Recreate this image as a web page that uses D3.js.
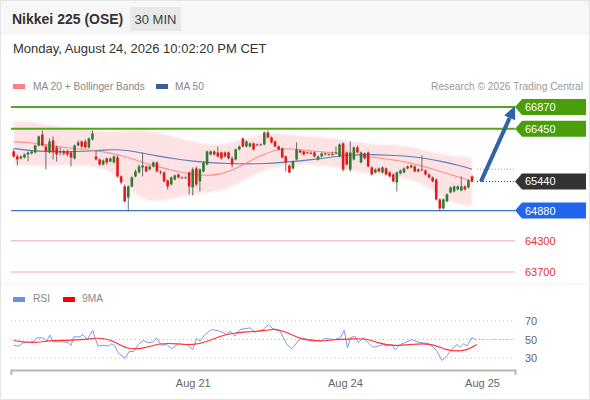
<!DOCTYPE html>
<html>
<head>
<meta charset="utf-8">
<script src="https://cdn.jsdelivr.net/npm/d3@7"></script>
<style>
  body { margin: 0; background: #fff; font-family: "Liberation Sans", Arial, sans-serif; }
</style>
</head>
<body>
<svg id="chart" width="590" height="400"></svg>
<script>
// 30 min candles
const open = [66016,65920,65882,65901,65958,65978,65997,66131,66342,66112,
  65997,66227,66093,66016,66016,66016,65997,65882,66131,66208,
  66208,66093,66246,65920,65862,65766,65882,65824,65805,65901,
  65536,65344,65133,65344,65536,65613,65709,65728,65670,65728,
  65805,65632,65613,65459,65382,65478,65574,65517,65510,65613,
  65325,65690,65440,65632,65766,65958,66016,65997,65997,65997,
  65997,65882,65862,66054,66266,66112,66112,66170,66150,66145,
  66150,66381,66285,66208,66112,66074,65920,65747,65690,65862,
  66035,66016,65997,65990,65997,65862,65920,65958,65958,65965,
  65978,65920,66170,65997,65670,65862,66093,65805,65978,65997,
  65709,65613,65690,65613,65690,65613,65574,65421,65594,65613,
  65728,65709,65728,65670,65670,65651,65574,65517,65478,65094,
  64922,65056,65229,65248,65286,65267,65344,65325,65536];
const close = [65920,65862,65920,65958,65997,66016,66131,66304,66131,66016,
  66208,65997,65958,66010,65978,65958,65901,66131,66189,66112,
  66093,66266,66362,65862,65766,65843,65805,65882,65920,65536,
  65421,65056,65344,65517,65632,65728,65747,65632,65728,65805,
  65632,65613,65440,65344,65517,65555,65517,65510,65517,65344,
  65670,65382,65670,65805,66016,66016,65958,65920,65882,65920,
  65882,65766,66054,66112,66112,66208,66170,66054,66145,66150,
  66381,66285,66189,66112,66054,65901,65805,65613,65824,66054,
  65997,65958,65990,65978,65920,65920,65978,65978,65965,65958,
  65997,66150,65670,65766,65997,66093,65997,65997,65882,65728,
  65574,65670,65632,65709,65574,65536,65440,65613,65651,65690,
  65690,65747,65632,65632,65665,65574,65517,65440,65094,64922,
  65094,65190,65325,65344,65344,65344,65286,65459,65440];
const high = [66054,65958,65939,65978,66016,66035,66150,66323,66419,66150,
  66266,66304,66131,66093,66054,66054,66016,66150,66227,66227,
  66246,66285,66419,66035,65882,65862,65901,65901,65939,65939,
  65555,65382,65363,65536,65670,65766,65997,65747,65747,65824,
  65824,65651,65632,65478,65536,65574,65594,65536,65536,65632,
  65709,65728,65690,65824,66035,66035,66035,66112,66016,66016,
  66016,65920,66074,66131,66285,66227,66189,66189,66170,66170,
  66400,66419,66304,66227,66131,66093,65939,65766,65843,66189,
  66054,66035,66016,66016,66016,65939,65997,65997,65978,66016,
  66112,66170,66189,66016,66208,66112,66131,66016,65997,66016,
  65728,65690,65709,65728,65709,65632,65594,65632,65670,65709,
  65747,65766,65747,65690,65939,65670,65594,65536,65498,65114,
  65114,65210,65344,65363,65363,65536,65363,65478,65555];
const low = [65901,65747,65862,65882,65824,65958,65978,66112,66112,65670,
  65978,65862,65824,65939,65939,65920,65728,65862,66112,66074,
  66074,66074,66227,65843,65747,65747,65766,65805,65786,65517,
  65382,65037,64864,65325,65517,65594,65536,65613,65651,65709,
  65613,65574,65421,65286,65363,65459,65498,65498,65498,65190,
  65171,65344,65248,65613,65747,65939,65939,65901,65862,65901,
  65862,65709,65843,66035,66093,66093,66093,66035,66131,66131,
  66131,66266,66170,66093,66035,65882,65632,65594,65670,65843,
  65978,65939,65978,65958,65901,65843,65901,65939,65939,65939,
  65958,65901,65632,65747,65632,65843,65978,65786,65862,65709,
  65555,65594,65613,65594,65555,65517,65421,65248,65574,65594,
  65670,65690,65613,65613,65651,65555,65498,65421,65075,64864,
  64902,65037,65210,65229,65267,65248,65267,65306,65421];

// indicator samples (bar index -> value)
const maIdx = [0,5,10,15,20,25,30,35,40,45,50,55,60,65,70,75,80,85,90,95,100,105,110,115,120,125,128];
const ma20 = [66202,66185,66131,66087,66049,66012,65949,65824,65728,65642,65569,65546,65613,65795,
  65968,66093,66045,66016,65987,65949,65910,65862,65809,65718,65613,65507,65446];
const ma50 = [66074,66026,66016,66010,66016,66045,66054,65997,65930,65872,65828,65799,65782,65776,
  65782,65805,65834,65872,65920,65953,65958,65945,65926,65885,65818,65738,65674];
const bbUpper = [66598,66598,66515,66477,66467,66381,66410,66429,66400,66294,66208,66122,66179,66266,
  66362,66362,66323,66294,66266,66198,66150,66150,66118,66035,65953,65920,65872];
const bbLower = [65766,65738,65734,65757,65747,65709,65478,65094,65046,65123,65190,65229,65286,65498,
  65651,65751,65766,65757,65709,65632,65584,65546,65498,65382,65085,64989,64966];

// key levels
const resistances = [66870, 66450];
const lastPrice = 65440;
const supports = [64880];
const lowerSupports = [64300, 63700];
const target = 66870;

// RSI pane
const rsiIdx = [0,1.3,2.7,5.5,6.4,8.3,9.2,10.1,11.1,13.9,15.3,16,16.8,18.5,19.3,20.6,22.1,22.7,23.6,25.2,
  26.4,27.4,28.3,29.2,31.1,32.3,33.4,34.8,36.2,37.6,39,39.9,41.3,42.7,44.1,46,48.3,50,51.1,52,
  53.4,55.3,57.6,59.5,60.4,61.8,63.2,66,67.4,69.7,71.1,72.3,74.4,76.3,77.7,80,82.8,85.6,87,89.7,
  91.2,92.3,93.2,94.1,95.3,96.3,97.5,98.6,100.3,101.8,103.1,104.2,105.6,106.5,108,109.8,111.2,112.6,
  114.2,115.8,117.2,118.2,119.6,120.9,122.3,123.8,124.7,125.7,126.6,127.9,129];
const rsi = [43.8,42.8,46.4,47.5,51.8,51.8,48.2,54.6,47.5,47.5,46.4,43.5,52.9,52.9,55.4,50,60.1,51.8,42.8,43.8,
  42.8,45.4,42.8,35.6,29.5,37.4,36.7,44.6,48.9,46.4,47.5,51.8,43.8,44.6,39.9,45.4,44.6,39.2,51.1,48.2,
  55.4,60.8,59,55.4,59,53.6,60.8,62.6,57.9,60.8,66.2,61.9,59,44.6,40,51,50,48.2,51.1,50,
  51.8,60.1,41,51.8,53.6,46.4,51.8,48.2,41.7,42.8,44.6,42.8,44.6,39.2,44.6,47.5,50,47.5,
  46.4,45.4,41.7,37.4,27.3,31.9,39.2,44.6,41.7,45.4,42.8,51.8,50];
const rsiMaIdx = [0,5.5,10.1,14.8,20.4,22.7,26,28.8,32,36.2,40.9,45.5,50.2,53.9,57.6,61.3,66,70.7,72.5,75.3,
  77.2,80,85.6,89.3,94.9,98.6,101.4,106,110.8,116.4,120.9,124.7,126.5,129.3];
const rsiMa = [48.9,45.7,49.2,48.9,50,51.8,50.8,46.4,39.2,39.9,46.4,45.4,43.8,47.5,53.6,57.2,58.3,59.7,61.6,59,
  56.2,50.5,47.5,50,50.8,51.1,46.4,42.8,44.6,46.4,38.1,37.4,38.4,44.6];
const rsiLevels = [70, 50, 30];

const dayIdx = [50, 92.5, 130.8];
const dayLabels = ["Aug 21", "Aug 24", "Aug 25"];

const svg = d3.select("#chart");
const font = '"Liberation Sans", Arial, sans-serif';
svg.style("font-family", font);

// frame + header
svg.append("rect").attr("x", 0.5).attr("y", 0.5).attr("width", 589).attr("height", 399)
  .attr("fill", "#fff").attr("stroke", "#e4e4e4");
svg.append("rect").attr("x", 1).attr("y", 1).attr("width", 588).attr("height", 34).attr("fill", "#f7f7f7");

svg.append("text").attr("x", 12).attr("y", 24).text("Nikkei 225 (OSE)")
  .attr("font-size", 14).attr("font-weight", "bold").attr("fill", "#333");
svg.append("rect").attr("x", 130).attr("y", 7).attr("width", 51).attr("height", 24)
  .attr("fill", "#e8e8e8");
svg.append("text").attr("x", 155.5).attr("y", 24).attr("text-anchor", "middle").text("30 MIN")
  .attr("font-size", 13).attr("fill", "#444");
svg.append("text").attr("x", 13).attr("y", 53).text("Monday, August 24, 2026 10:02:20 PM CET")
  .attr("font-size", 13).attr("fill", "#333");

// legend
svg.append("rect").attr("x", 13).attr("y", 84).attr("width", 12).attr("height", 5).attr("fill", "#ff8080");
svg.append("text").attr("x", 33).attr("y", 90).text("MA 20 + Bollinger Bands").attr("font-size", 10.2).attr("fill", "#888");
svg.append("rect").attr("x", 156).attr("y", 84).attr("width", 12).attr("height", 5).attr("fill", "#3b5e9c");
svg.append("text").attr("x", 175).attr("y", 90).text("MA 50").attr("font-size", 10.2).attr("fill", "#888");
svg.append("text").attr("x", 583).attr("y", 90).attr("text-anchor", "end")
  .text("Research \u00a9 2026 Trading Central").attr("font-size", 10.2).attr("fill", "#999");

// scales
const x = d3.scaleLinear().domain([-0.75, 140]).range([11, 515]);
const y = d3.scaleLinear().domain([63700, 66870]).range([272, 107]);
const ry = d3.scaleLinear().domain([30, 70]).range([358, 321]);
const xEnd = x.range()[1];

// bollinger band
const defs = svg.append("defs");
defs.append("filter").attr("id", "soft").append("feGaussianBlur").attr("stdDeviation", 1.2);
const bandArea = d3.area().curve(d3.curveBasis)
  .x((d, i) => x(maIdx[i])).y0((d, i) => y(bbLower[i])).y1(d => y(d));
svg.append("path").datum(bbUpper).attr("d", bandArea).attr("fill", "#fde3e3").attr("filter", "url(#soft)");

// level lines
resistances.forEach(v => {
  svg.append("line").attr("x1", 11).attr("x2", xEnd).attr("y1", y(v)).attr("y2", y(v))
    .attr("stroke", "#55a51c").attr("stroke-width", 2);
});
supports.forEach(v => {
  svg.append("line").attr("x1", 11).attr("x2", xEnd).attr("y1", y(v)).attr("y2", y(v))
    .attr("stroke", "#3b6fd0").attr("stroke-width", 1.3);
});
lowerSupports.forEach(v => {
  svg.append("line").attr("x1", 11).attr("x2", xEnd).attr("y1", y(v)).attr("y2", y(v))
    .attr("stroke", "#f5a8a8").attr("stroke-width", 1);
});

// moving averages
const maLine = d3.line().curve(d3.curveBasis).x((d, i) => x(maIdx[i])).y(d => y(d));
svg.append("path").datum(ma50).attr("d", maLine).attr("fill", "none").attr("stroke", "#5b7ec0").attr("stroke-width", 1.1);
svg.append("path").datum(ma20).attr("d", maLine).attr("fill", "none").attr("stroke", "#ff8c8c").attr("stroke-width", 1.1);

// candles
const bars = d3.range(close.length);
const bw = 2.6;
const g = svg.append("g");
g.selectAll("line.wick").data(bars).join("line").attr("class", "wick")
  .attr("x1", i => x(i)).attr("x2", i => x(i))
  .attr("y1", i => y(high[i])).attr("y2", i => y(low[i]))
  .attr("stroke", "#6b6b6b").attr("stroke-width", 1);
g.selectAll("rect.body").data(bars).join("rect").attr("class", "body")
  .attr("x", i => x(i) - bw / 2).attr("width", bw)
  .attr("y", i => y(Math.max(open[i], close[i])))
  .attr("height", i => Math.max(1, Math.abs(y(open[i]) - y(close[i]))))
  .attr("fill", i => close[i] >= open[i] ? "#2e7d2e" : "#e01b1b");

// projections from last bar
const last = close.length - 1;
svg.append("line").attr("x1", x(last) + 5).attr("x2", xEnd).attr("y1", y(lastPrice)).attr("y2", y(lastPrice))
  .attr("stroke", "#333").attr("stroke-dasharray", "1,2");
svg.append("line").attr("x1", x(last) + 5).attr("x2", xEnd)
  .attr("y1", y(ma50[ma50.length - 1])).attr("y2", y(ma50[ma50.length - 1]))
  .attr("stroke", "#8aa6d8").attr("stroke-dasharray", "1,2");

// arrow to target
const ax0 = x(last) + 9, ay0 = y(lastPrice);
const ax1 = xEnd, ay1 = y(target) - 1;
const ang = Math.atan2(ay1 - ay0, ax1 - ax0);
const headL = 13, headW = 6;
const bx = ax1 - headL * Math.cos(ang), by = ay1 - headL * Math.sin(ang);
svg.append("line").attr("x1", ax0).attr("y1", ay0).attr("x2", bx).attr("y2", by)
  .attr("stroke", "#2f62a6").attr("stroke-width", 4);
svg.append("path")
  .attr("d", `M${ax1},${ay1}L${bx + headW * Math.sin(ang)},${by - headW * Math.cos(ang)}L${bx - headW * Math.sin(ang)},${by + headW * Math.cos(ang)}Z`)
  .attr("fill", "#2f62a6");

// right labels
function tag(v, fill) {
  const cy = y(v);
  svg.append("path")
    .attr("d", `M${xEnd},${cy}L${xEnd + 7},${cy - 8}H586V${cy + 8}H${xEnd + 7}Z`)
    .attr("fill", fill);
  svg.append("text").attr("x", xEnd + 10).attr("y", cy + 4).text(v)
    .attr("font-size", 11).attr("fill", "#fff");
}
resistances.forEach(v => tag(v, "#4a9e0c"));
tag(lastPrice, "#333");
supports.forEach(v => tag(v, "#2266ee"));
lowerSupports.forEach(v => {
  svg.append("text").attr("x", xEnd + 10).attr("y", y(v) + 4).text(v)
    .attr("font-size", 11).attr("fill", "#e53030");
});

// pane separator
svg.append("line").attr("x1", 1).attr("x2", 589).attr("y1", 283.5).attr("y2", 283.5)
  .attr("stroke", "#ddd").attr("stroke-dasharray", "1,2");

// RSI pane
svg.append("rect").attr("x", 13).attr("y", 297).attr("width", 12).attr("height", 5).attr("fill", "#6f8ee8");
svg.append("text").attr("x", 33).attr("y", 302).text("RSI").attr("font-size", 10.2).attr("fill", "#888");
svg.append("rect").attr("x", 63).attr("y", 297).attr("width", 12).attr("height", 5).attr("fill", "#f00");
svg.append("text").attr("x", 82).attr("y", 302).text("9MA").attr("font-size", 10.2).attr("fill", "#888");

rsiLevels.forEach(v => {
  svg.append("line").attr("x1", 11).attr("x2", xEnd).attr("y1", ry(v)).attr("y2", ry(v))
    .attr("stroke", "#bbb").attr("stroke-dasharray", "1,3");
  svg.append("text").attr("x", xEnd + 10).attr("y", ry(v) + 4).text(v)
    .attr("font-size", 11).attr("fill", "#666");
});

const rsiLine = d3.line().x((d, i) => x(rsiIdx[i])).y(d => ry(d));
svg.append("path").datum(rsi).attr("d", rsiLine).attr("fill", "none")
  .attr("stroke", "#7d99ec").attr("stroke-width", 1);
svg.append("line").attr("x1", x(rsiIdx[rsiIdx.length - 1])).attr("x2", xEnd)
  .attr("y1", ry(rsi[rsi.length - 1])).attr("y2", ry(rsi[rsi.length - 1]))
  .attr("stroke", "#9fb4ee").attr("stroke-dasharray", "1,2");
const rsiMaLine = d3.line().curve(d3.curveBasis).x((d, i) => x(rsiMaIdx[i])).y(d => ry(d));
svg.append("path").datum(rsiMa).attr("d", rsiMaLine).attr("fill", "none")
  .attr("stroke", "#f33").attr("stroke-width", 1.2);

// time axis
const axis = svg.append("g").attr("transform", "translate(0,370)")
  .call(d3.axisBottom(x).tickValues(dayIdx).tickFormat((d, i) => dayLabels[i])
    .tickSize(0).tickSizeOuter(5).tickPadding(9));
axis.select(".domain").attr("stroke", "#b8b8b8").attr("stroke-width", 2);
axis.selectAll("text").attr("font-size", 11).attr("fill", "#666").attr("font-family", font);
</script>
</body>
</html>
